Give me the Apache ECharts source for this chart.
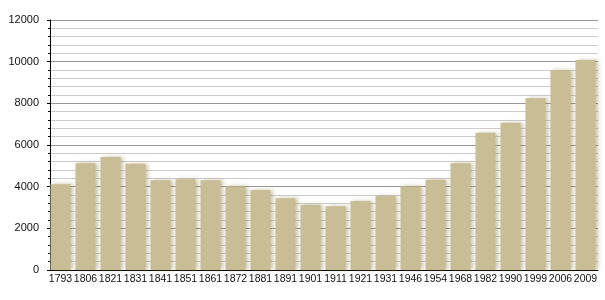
<!DOCTYPE html>
<html><head><meta charset="utf-8">
<script src="https://cdn.jsdelivr.net/npm/echarts@6/dist/echarts.min.js"></script>
<style>html,body{margin:0;padding:0;background:#fff}#c{width:605px;height:300px}</style>
</head><body><div id="c"></div>
<script>
const years = ['1793','1806','1821','1831','1841','1851','1861','1872','1881','1891','1901','1911','1921','1931','1946','1954','1968','1982','1990','1999','2006','2009'];
const population = [4120,5120,5420,5100,4310,4360,4310,4010,3840,3450,3130,3060,3310,3550,4010,4330,5130,6590,7070,8240,9590,10080];
const yTicks = [0,2000,4000,6000,8000,10000,12000];

const chart = echarts.init(document.getElementById('c'), null, {renderer:'canvas'});
chart.setOption({
  animation:false,
  grid:{left:48, right:7, top:20, bottom:30, containLabel:false},
  xAxis:{type:'category', data:years,
    axisLine:{lineStyle:{color:'#000', width:1}},
    axisTick:{show:false},
    axisLabel:{interval:0, color:'#111', fontFamily:'Liberation Sans, Arial', fontSize:10.5, margin:4}},
  yAxis:{type:'value', min:yTicks[0], max:yTicks[yTicks.length-1], interval:2000, offset:-2,
    axisLine:{show:true, lineStyle:{color:'#000'}},
    axisTick:{show:true, length:3, lineStyle:{color:'#000'}},
    minorTick:{show:true, splitNumber:5, length:2, lineStyle:{color:'#000'}},
    splitLine:{show:true, lineStyle:{color:'#999', width:1}},
    minorSplitLine:{show:true, lineStyle:{color:'#ccc', width:1}},
    axisLabel:{color:'#111', fontFamily:'Liberation Sans, Arial', fontSize:11, margin:11,
      formatter:v=>String(v)}},
  series:[{type:'bar', data:population, barWidth:20,
    itemStyle:{color:'#c9bd95', shadowColor:'rgba(140,125,70,0.45)', shadowBlur:4, shadowOffsetX:2}}]
});
</script></body></html>
